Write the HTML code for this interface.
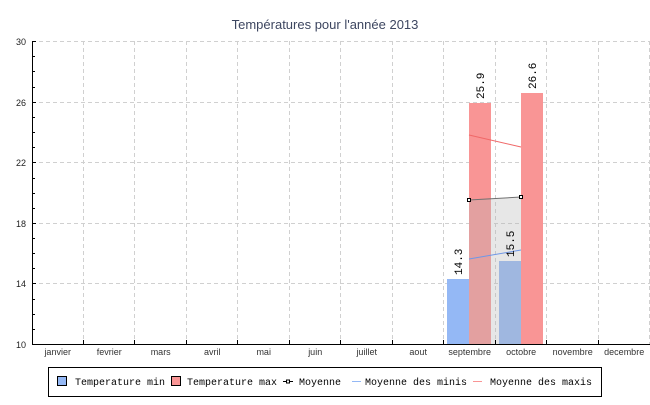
<!DOCTYPE html>
<html><head><meta charset="utf-8"><style>body{margin:0;background:#fff}</style></head><body>
<svg width="650" height="400" xmlns="http://www.w3.org/2000/svg" font-family="Liberation Sans, sans-serif">
<rect width="650" height="400" fill="#fff"/>
<text x="325" y="29" text-anchor="middle" font-size="13" fill="#3d4660">Températures pour l'année 2013</text>
<g stroke="#d0d0d0" stroke-dasharray="4,3" stroke-width="1">
<line x1="32" y1="41.5" x2="650" y2="41.5"/>
<line x1="32" y1="102.5" x2="650" y2="102.5"/>
<line x1="32" y1="162.5" x2="650" y2="162.5"/>
<line x1="32" y1="223.5" x2="650" y2="223.5"/>
<line x1="32" y1="283.5" x2="650" y2="283.5"/>
<line x1="83.5" y1="41" x2="83.5" y2="344"/><line x1="134.5" y1="41" x2="134.5" y2="344"/><line x1="186.5" y1="41" x2="186.5" y2="344"/><line x1="237.5" y1="41" x2="237.5" y2="344"/><line x1="289.5" y1="41" x2="289.5" y2="344"/><line x1="340.5" y1="41" x2="340.5" y2="344"/><line x1="392.5" y1="41" x2="392.5" y2="344"/><line x1="443.5" y1="41" x2="443.5" y2="344"/><line x1="495.5" y1="41" x2="495.5" y2="344"/><line x1="546.5" y1="41" x2="546.5" y2="344"/><line x1="598.5" y1="41" x2="598.5" y2="344"/><line x1="649.5" y1="41" x2="649.5" y2="344"/>
</g>
<rect x="447" y="279" width="22" height="65" fill="#94b8f5"/>
<rect x="469" y="103" width="22" height="241" fill="#f99595"/>
<rect x="499" y="261" width="22" height="83" fill="#94b8f5"/>
<rect x="521" y="93" width="22" height="251" fill="#f99595"/>
<polygon points="469,200 521,197 521,344 469,344" fill="#b6b6b6" fill-opacity="0.33"/>
<line x1="469" y1="135" x2="521" y2="147" stroke="#f06868" stroke-width="1"/>
<line x1="469" y1="259" x2="521" y2="250" stroke="#6f97e6" stroke-width="1"/>
<line x1="469" y1="200" x2="521" y2="197" stroke="#707070" stroke-width="1"/>
<rect x="467.5" y="198.5" width="3" height="3" fill="#fff" stroke="#000"/>
<rect x="519.5" y="195.5" width="3" height="3" fill="#fff" stroke="#000"/>
<g font-family="Liberation Mono, monospace" font-size="11" fill="#000">
<text transform="translate(462,275) rotate(-90)">14.3</text>
<text transform="translate(484,99) rotate(-90)">25.9</text>
<text transform="translate(514,257) rotate(-90)">15.5</text>
<text transform="translate(536,89) rotate(-90)">26.6</text>
</g>
<g stroke="#000" stroke-width="1">
<line x1="32.5" y1="41" x2="32.5" y2="344"/>
<line x1="32" y1="344.5" x2="650" y2="344.5"/>
</g>
<g stroke="#000">
<path d="M32 41.5h4M32 56.5h3M32 71.5h3M32 87.5h3M32 102.5h4M32 117.5h3M32 132.5h3M32 147.5h3M32 162.5h4M32 178.5h3M32 193.5h3M32 208.5h3M32 223.5h4M32 238.5h3M32 253.5h3M32 268.5h3M32 283.5h4M32 299.5h3M32 314.5h3M32 329.5h3"/>
<path d="M83.5 340v4M134.5 340v4M186.5 340v4M237.5 340v4M289.5 340v4M340.5 340v4M392.5 340v4M443.5 340v4M495.5 340v4M546.5 340v4M598.5 340v4"/>
</g>
<g font-size="9" fill="#222" text-anchor="end">
<text x="26" y="45">30</text><text x="26" y="106">26</text><text x="26" y="166">22</text><text x="26" y="227">18</text><text x="26" y="287">14</text><text x="26" y="348">10</text>
</g>
<g font-size="9" fill="#333" text-anchor="middle">
<text x="57.7" y="355">janvier</text><text x="109.2" y="355">fevrier</text><text x="160.7" y="355">mars</text><text x="212.2" y="355">avril</text><text x="263.7" y="355">mai</text><text x="315.2" y="355">juin</text><text x="366.7" y="355">juillet</text><text x="418.2" y="355">aout</text><text x="469.7" y="355">septembre</text><text x="521.2" y="355">octobre</text><text x="572.7" y="355">novembre</text><text x="624.2" y="355">decembre</text>
</g>
<rect x="48.5" y="367.5" width="553" height="29" fill="#fff" stroke="#000"/>
<rect x="57.5" y="376.5" width="9" height="9" fill="#94b8f5" stroke="#000"/>
<rect x="171.5" y="376.5" width="9" height="9" fill="#f99595" stroke="#000"/>
<line x1="283" y1="381.5" x2="293" y2="381.5" stroke="#000"/>
<rect x="286.5" y="380" width="3" height="3" fill="#fff" stroke="#000"/>
<line x1="352" y1="381.5" x2="361" y2="381.5" stroke="#94b8f5"/>
<line x1="473" y1="381.5" x2="482" y2="381.5" stroke="#f99595"/>
<g font-family="Liberation Mono, monospace" font-size="10" fill="#000">
<text x="75" y="385">Temperature min</text>
<text x="187" y="385">Temperature max</text>
<text x="299" y="385">Moyenne</text>
<text x="365" y="385">Moyenne des minis</text>
<text x="490" y="385">Moyenne des maxis</text>
</g>
</svg>
</body></html>
